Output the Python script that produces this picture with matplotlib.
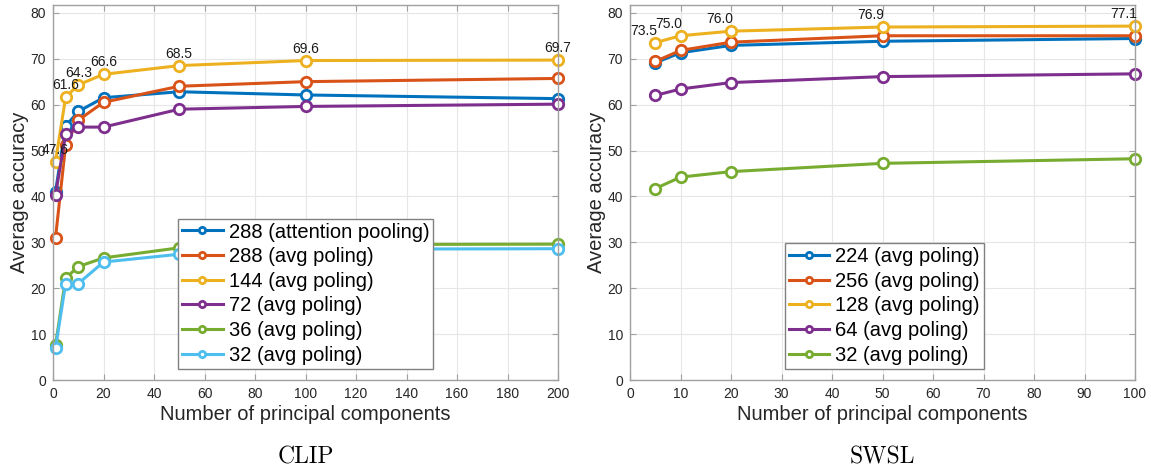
import matplotlib
matplotlib.use("Agg")
import matplotlib.pyplot as plt

plt.rcParams["font.family"] = ["Liberation Sans", "DejaVu Sans"]

# ---------------- data ----------------
clip_x = [1, 5, 10, 20, 50, 100, 200]
clip_labels = ["288 (attention pooling)", "288 (avg poling)", "144 (avg poling)",
               "72 (avg poling)", "36 (avg poling)", "32 (avg poling)"]
clip_288_att = [41.0, 55.3, 58.5, 61.5, 62.8, 62.1, 61.3]
clip_288_avg = [31.0, 51.2, 56.6, 60.5, 64.0, 65.0, 65.7]
clip_144_avg = [47.6, 61.6, 64.3, 66.6, 68.5, 69.6, 69.7]
clip_72_avg = [40.4, 53.5, 55.1, 55.1, 59.0, 59.6, 60.1]
clip_36_avg = [7.6, 22.2, 24.7, 26.6, 28.8, 29.5, 29.6]
clip_32_avg = [7.0, 21.0, 21.0, 25.7, 27.4, 28.5, 28.6]

swsl_x = [5, 10, 20, 50, 100]
swsl_labels = ["224 (avg poling)", "256 (avg poling)", "128 (avg poling)",
               "64 (avg poling)", "32 (avg poling)"]
swsl_224_avg = [69.1, 71.3, 72.9, 73.8, 74.4]
swsl_256_avg = [69.4, 71.8, 73.6, 75.0, 75.0]
swsl_128_avg = [73.5, 75.0, 76.0, 76.9, 77.1]
swsl_64_avg = [62.0, 63.4, 64.8, 66.1, 66.7]
swsl_32_avg = [41.7, 44.2, 45.4, 47.2, 48.2]

colors = ["#0072BD", "#D95319", "#EDB120", "#7E2F8E", "#77AC30", "#4DBEEE"]

fig = plt.figure(figsize=(11.51, 4.70), dpi=100)
axL = fig.add_axes([53/1151, 90/470, 505/1151, 375/470])
axR = fig.add_axes([630/1151, 90/470, 505/1151, 375/470])


def style(ax, xlim, xticks):
    ax.set_xlim(*xlim)
    ax.set_ylim(0, 81.7)
    ax.set_xticks(xticks)
    ax.set_yticks(range(0, 81, 10))
    ax.grid(True, color="#e6e6e6", linewidth=0.8)
    ax.set_axisbelow(True)
    for s in ax.spines.values():
        s.set_color("#a0a0a0")
        s.set_linewidth(1.0)
    ax.tick_params(direction="in", top=True, right=True, color="#a0a0a0",
                   labelcolor="#262626", labelsize=10, length=4, pad=5)
    ax.set_xlabel("Number of principal components", fontsize=14.5, color="#262626", labelpad=3)
    ax.set_ylabel("Average accuracy", fontsize=14.5, color="#262626", labelpad=1)


def legend(ax, x0):
    leg = ax.legend(loc="lower left", bbox_to_anchor=(x0, 0.03), fontsize=14.5,
                    fancybox=False, edgecolor="#808080", framealpha=1,
                    handlelength=2.0, handletextpad=0.3, borderpad=0.2,
                    labelspacing=0.28, markerscale=0.6, borderaxespad=0)
    leg.get_frame().set_linewidth(1.0)
    return leg


clip_series = [clip_288_att, clip_288_avg, clip_144_avg, clip_72_avg, clip_36_avg, clip_32_avg]
for ys, lab, c in zip(clip_series, clip_labels, colors):
    axL.plot(clip_x, ys, "-o", color=c, lw=2.2, ms=7.5, mfc="white", mew=2,
             label=lab, clip_on=False)
for x, y in zip(clip_x, clip_144_avg):
    axL.annotate(f"{y:.1f}", (x, y), xytext=(0, 3.5), textcoords="offset points",
                 ha="center", va="bottom", fontsize=10, color="#1a1a1a")
style(axL, (0, 200), range(0, 201, 20))
legend(axL, 0.248)

swsl_series = [swsl_224_avg, swsl_256_avg, swsl_128_avg, swsl_64_avg, swsl_32_avg]
for ys, lab, c in zip(swsl_series, swsl_labels, colors):
    axR.plot(swsl_x, ys, "-o", color=c, lw=2.2, ms=7.5, mfc="white", mew=2,
             label=lab, clip_on=False)
for x, y in zip(swsl_x, swsl_128_avg):
    axR.annotate(f"{y:.1f}", (x, y), xytext=(1.5, 3.5), textcoords="offset points",
                 ha="right", va="bottom", fontsize=10, color="#1a1a1a")
style(axR, (0, 100), range(0, 101, 10))
legend(axR, 0.307)

fig.text((53 + 558) / 2 / 1151, 1 - 457/470, "CLIP", ha="center", va="center",
         fontsize=17, family="cmr10")
fig.text((630 + 1135) / 2 / 1151, 1 - 457/470, "SWSL", ha="center", va="center",
         fontsize=17, family="cmr10")

fig.savefig("out.png", dpi=100)
